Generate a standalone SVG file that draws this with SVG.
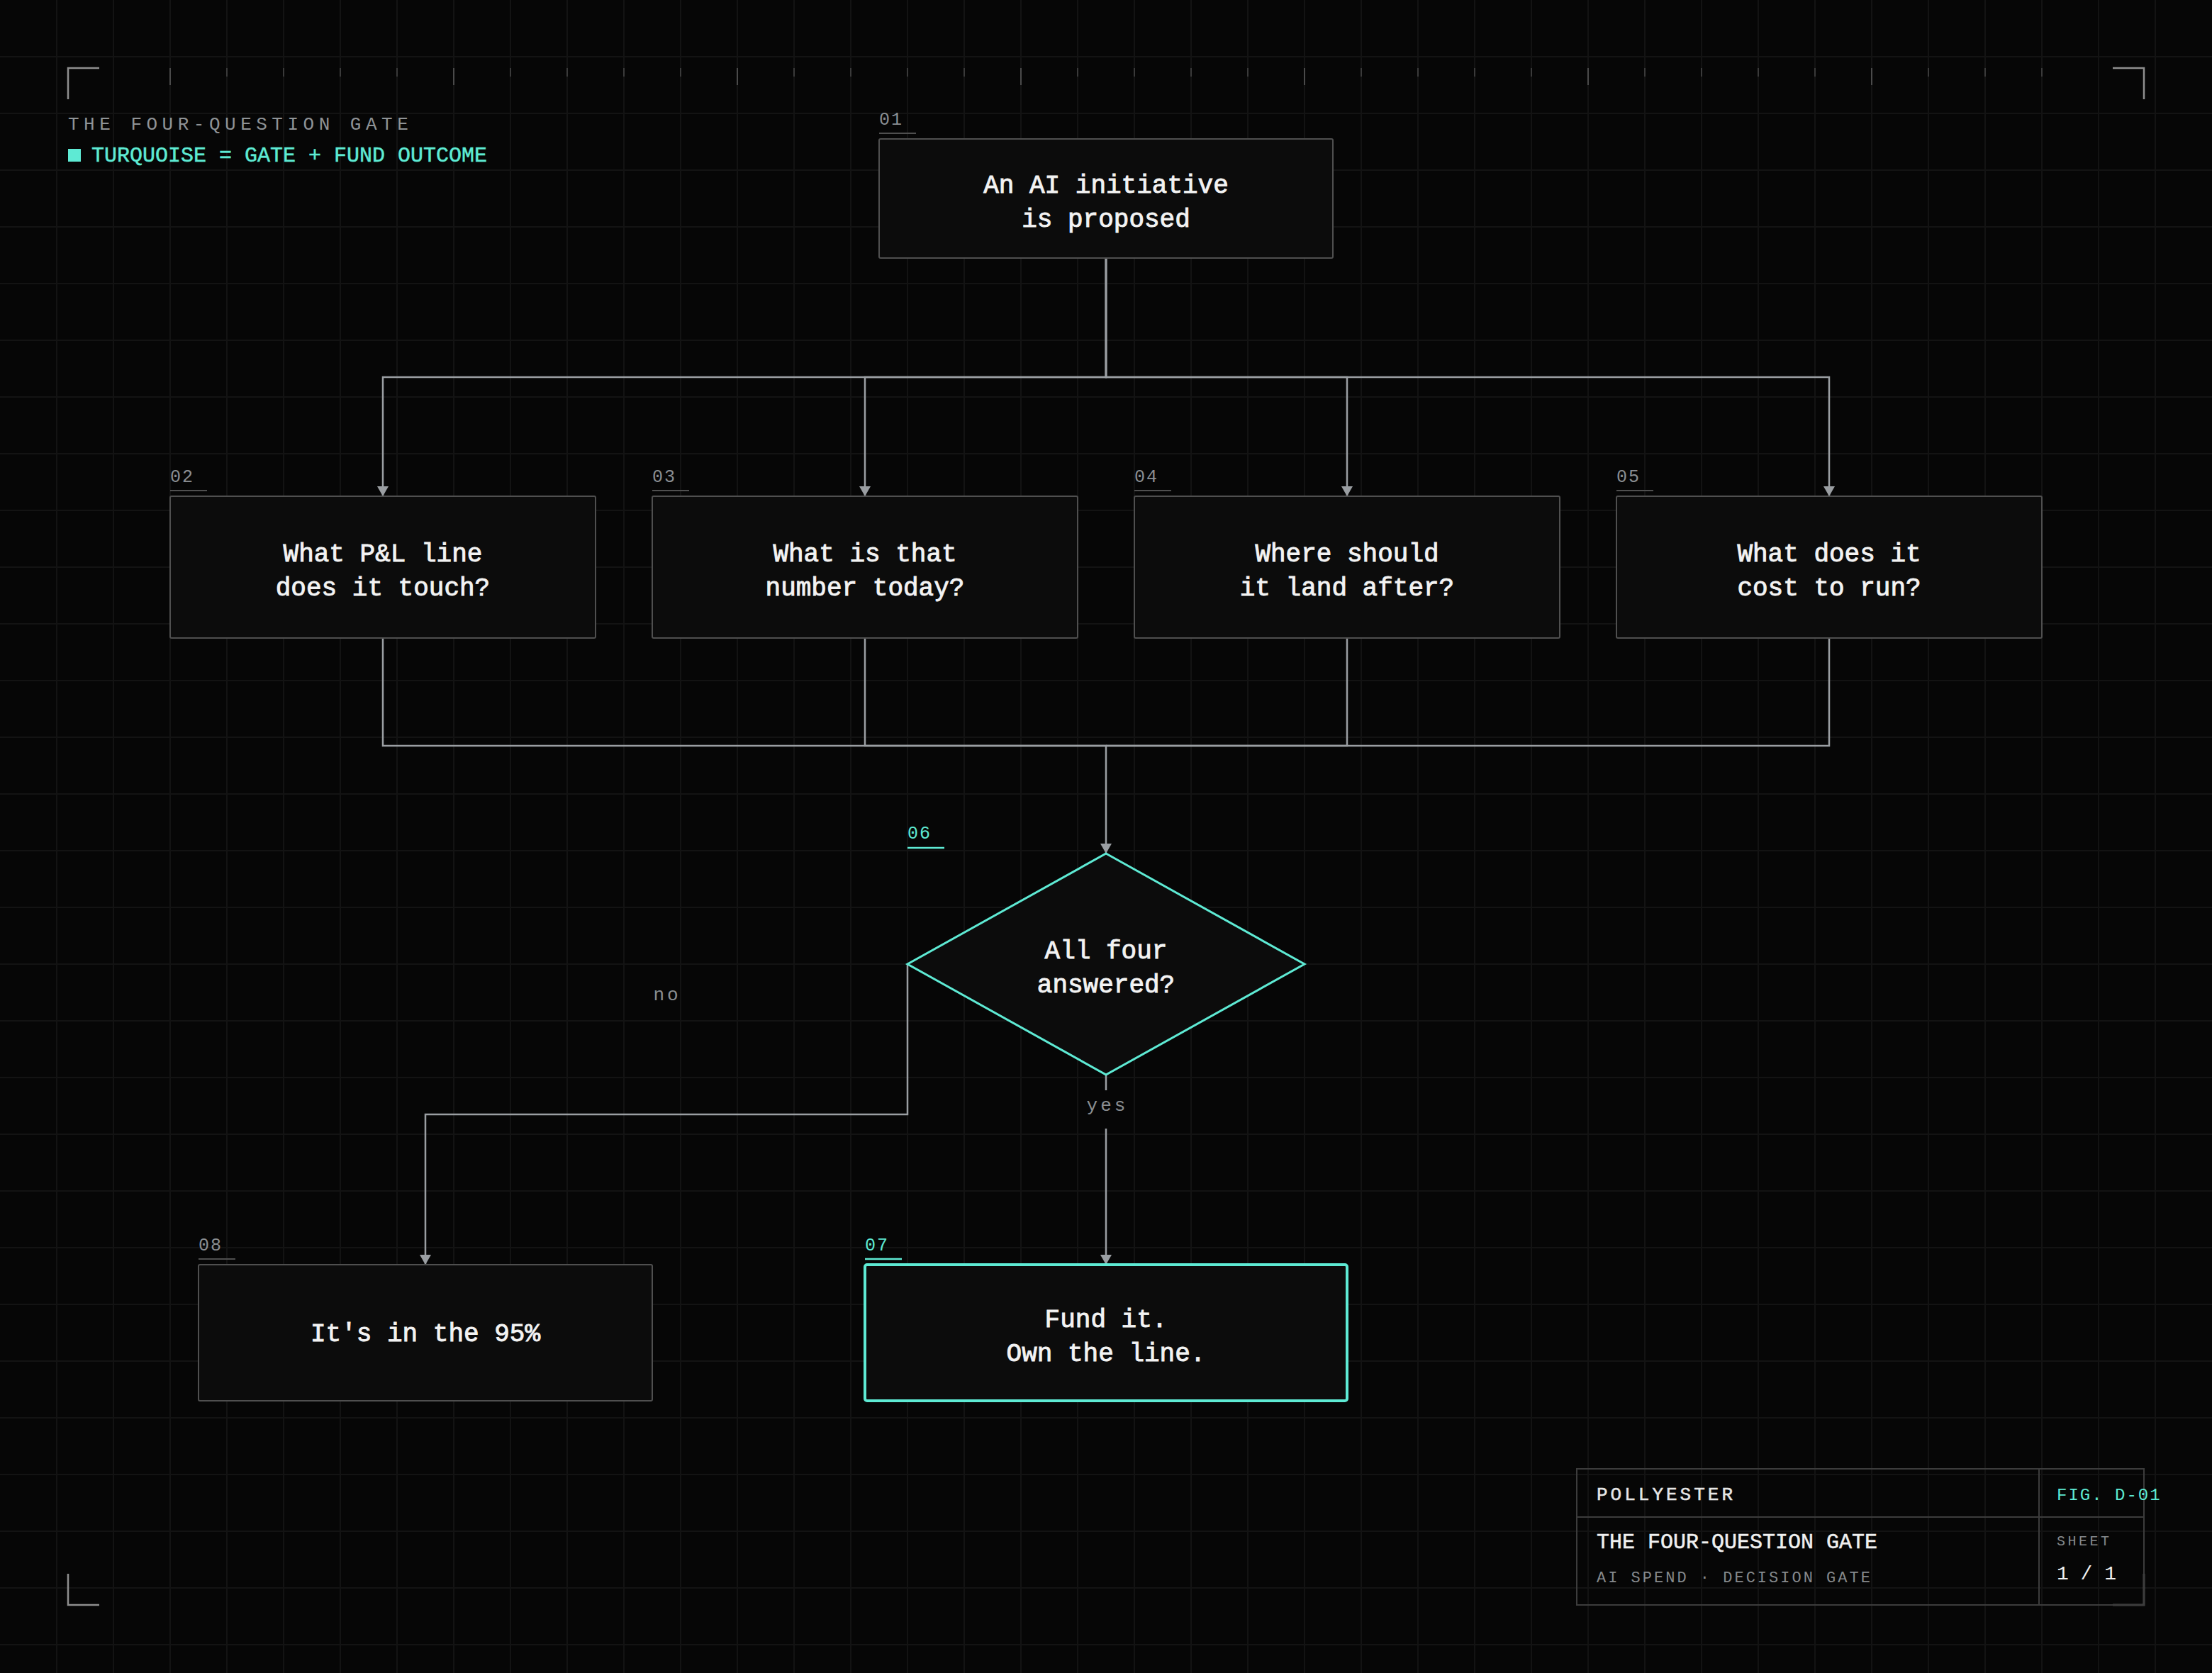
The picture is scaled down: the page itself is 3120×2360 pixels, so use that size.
<svg xmlns="http://www.w3.org/2000/svg" width="3120" height="2360" viewBox="0 0 3120 2360">
<defs>
<style>
.mono{font-family:"Liberation Mono","DejaVu Sans Mono",monospace;}
.grid{stroke:#131313;stroke-width:2;fill:none;}
.tick{stroke:#3a3a3a;stroke-width:2;}
.tickL{stroke:#4a4a4a;stroke-width:2;}
.bracket{stroke:#8e8e8e;stroke-width:2.5;fill:none;}
.box{fill:#0c0c0c;stroke:#4f4f4f;stroke-width:2;}
.boxT{fill:#0c0c0c;stroke:#5eead4;stroke-width:4;}
.dia{fill:#0c0c0c;stroke:#5eead4;stroke-width:3;}
.ntext{font-family:"Liberation Mono","DejaVu Sans Mono",monospace;font-size:36px;fill:#f3f3f3;stroke:#f3f3f3;stroke-width:0.9px;text-anchor:middle;}
.tag{font-family:"Liberation Mono","DejaVu Sans Mono",monospace;font-size:25px;letter-spacing:2px;fill:#8a8e92;}
.tagT{fill:#5eead4;}
.uline{stroke:#4f4f4f;stroke-width:2;}
.ulineT{stroke:#5eead4;stroke-width:2.5;}
.conn{fill:none;stroke:#9a9ea2;stroke-width:2.5;}
.elabel{font-family:"Liberation Mono","DejaVu Sans Mono",monospace;font-size:26px;letter-spacing:4px;fill:#8a8e92;text-anchor:middle;}
.tb{fill:none;stroke:#3c3c3c;stroke-width:2;}
</style>
<marker id="arr" viewBox="0 0 14 16" refX="14" refY="8" markerWidth="14" markerHeight="16" markerUnits="userSpaceOnUse" orient="auto">
<path d="M0 0 L14 8 L0 16 Z" fill="#9a9ea2"/>
</marker>
</defs>
<rect x="0" y="0" width="3120" height="2360" fill="#060606"/>
<g id="grid">
<path class="grid" d="M80 0V2360M160 0V2360M240 0V2360M320 0V2360M400 0V2360M480 0V2360M560 0V2360M640 0V2360M720 0V2360M800 0V2360M880 0V2360M960 0V2360M1040 0V2360M1120 0V2360M1200 0V2360M1280 0V2360M1360 0V2360M1440 0V2360M1520 0V2360M1600 0V2360M1680 0V2360M1760 0V2360M1840 0V2360M1920 0V2360M2000 0V2360M2080 0V2360M2160 0V2360M2240 0V2360M2320 0V2360M2400 0V2360M2480 0V2360M2560 0V2360M2640 0V2360M2720 0V2360M2800 0V2360M2880 0V2360M2960 0V2360M3040 0V2360"/>
<path class="grid" d="M0 80H3120M0 160H3120M0 240H3120M0 320H3120M0 400H3120M0 480H3120M0 560H3120M0 640H3120M0 720H3120M0 800H3120M0 880H3120M0 960H3120M0 1040H3120M0 1120H3120M0 1200H3120M0 1280H3120M0 1360H3120M0 1440H3120M0 1520H3120M0 1600H3120M0 1680H3120M0 1760H3120M0 1840H3120M0 1920H3120M0 2000H3120M0 2080H3120M0 2160H3120M0 2240H3120M0 2320H3120"/>
</g>
<g id="frame">
<path class="bracket" d="M96 140V96H140"/>
<path class="bracket" d="M2980 96H3024V140"/>
<path class="bracket" d="M96 2220V2264H140"/>
<path class="bracket" d="M3024 2220V2264H2980"/>
<path class="tick" d="M320 96V108M400 96V108M480 96V108M560 96V108M720 96V108M800 96V108M880 96V108M960 96V108M1120 96V108M1200 96V108M1280 96V108M1360 96V108M1520 96V108M1600 96V108M1680 96V108M1760 96V108M1920 96V108M2000 96V108M2080 96V108M2160 96V108M2320 96V108M2400 96V108M2480 96V108M2560 96V108M2720 96V108M2800 96V108M2880 96V108"/>
<path class="tickL" d="M240 96V120M640 96V120M1040 96V120M1440 96V120M1840 96V120M2240 96V120M2640 96V120"/>
</g>
<g id="legend">
<text class="mono" x="96" y="183" font-size="26" letter-spacing="6.5" fill="#8f9396">THE FOUR-QUESTION GATE</text>
<rect x="96" y="210" width="18" height="18" fill="#5eead4"/>
<text class="mono" x="129" y="228" font-size="30" fill="#5eead4" stroke="#5eead4" stroke-width="0.5">TURQUOISE = GATE + FUND OUTCOME</text>
</g>
<g id="connectors">
<path class="conn" d="M1560 364V532H540V700" marker-end="url(#arr)"/>
<path class="conn" d="M1560 364V532H1220V700" marker-end="url(#arr)"/>
<path class="conn" d="M1560 364V532H1900V700" marker-end="url(#arr)"/>
<path class="conn" d="M1560 364V532H2580V700" marker-end="url(#arr)"/>
<path class="conn" d="M540 900V1052H1560V1204" marker-end="url(#arr)"/>
<path class="conn" d="M1220 900V1052H1560"/>
<path class="conn" d="M1900 900V1052H1560"/>
<path class="conn" d="M2580 900V1052H1560"/>
<path class="conn" d="M1280 1360V1572H600V1784" marker-end="url(#arr)"/>
<path class="conn" d="M1560 1516V1538"/>
<path class="conn" d="M1560 1592V1784" marker-end="url(#arr)"/>
<text class="elabel" x="941" y="1411">no</text>
<text class="elabel" x="1562" y="1567">yes</text>
</g>
<g id="n01">
<rect class="box" x="1240" y="196" width="640" height="168" rx="2"/>
<text class="tag" x="1240" y="176">01</text>
<line class="uline" x1="1240" y1="188" x2="1292" y2="188"/>
<text class="ntext" x="1560" y="272">An AI initiative</text>
<text class="ntext" x="1560" y="320">is proposed</text>
</g>
<g id="n02">
<rect class="box" x="240" y="700" width="600" height="200" rx="2"/>
<text class="tag" x="240" y="680">02</text>
<line class="uline" x1="240" y1="692" x2="292" y2="692"/>
<text class="ntext" x="540" y="792">What P&amp;L line</text>
<text class="ntext" x="540" y="840">does it touch?</text>
</g>
<g id="n03">
<rect class="box" x="920" y="700" width="600" height="200" rx="2"/>
<text class="tag" x="920" y="680">03</text>
<line class="uline" x1="920" y1="692" x2="972" y2="692"/>
<text class="ntext" x="1220" y="792">What is that</text>
<text class="ntext" x="1220" y="840">number today?</text>
</g>
<g id="n04">
<rect class="box" x="1600" y="700" width="600" height="200" rx="2"/>
<text class="tag" x="1600" y="680">04</text>
<line class="uline" x1="1600" y1="692" x2="1652" y2="692"/>
<text class="ntext" x="1900" y="792">Where should</text>
<text class="ntext" x="1900" y="840">it land after?</text>
</g>
<g id="n05">
<rect class="box" x="2280" y="700" width="600" height="200" rx="2"/>
<text class="tag" x="2280" y="680">05</text>
<line class="uline" x1="2280" y1="692" x2="2332" y2="692"/>
<text class="ntext" x="2580" y="792">What does it</text>
<text class="ntext" x="2580" y="840">cost to run?</text>
</g>
<g id="n06">
<polygon class="dia" points="1560,1204 1840,1360 1560,1516 1280,1360"/>
<text class="tag tagT" x="1280" y="1183">06</text>
<line class="ulineT" x1="1280" y1="1196" x2="1332" y2="1196"/>
<text class="ntext" x="1560" y="1352">All four</text>
<text class="ntext" x="1560" y="1400">answered?</text>
</g>
<g id="n07">
<rect class="boxT" x="1220" y="1784" width="680" height="192" rx="3"/>
<text class="tag tagT" x="1220" y="1764">07</text>
<line class="ulineT" x1="1220" y1="1776" x2="1272" y2="1776"/>
<text class="ntext" x="1560" y="1872">Fund it.</text>
<text class="ntext" x="1560" y="1920">Own the line.</text>
</g>
<g id="n08">
<rect class="box" x="280" y="1784" width="640" height="192" rx="2"/>
<text class="tag" x="280" y="1764">08</text>
<line class="uline" x1="280" y1="1776" x2="332" y2="1776"/>
<text class="ntext" x="600" y="1892">It's in the 95%</text>
</g>
<g id="titleblock">
<rect class="tb" x="2224" y="2072" width="800" height="192"/>
<path class="tb" d="M2224 2140H3024M2876 2072V2264"/>
<text class="mono" x="2252" y="2116" font-size="26" letter-spacing="4" fill="#e6e6e6" stroke="#e6e6e6" stroke-width="0.5">POLLYESTER</text>
<text class="mono" x="2901" y="2116" font-size="24" letter-spacing="2" fill="#5eead4">FIG. D-01</text>
<text class="mono" x="2252" y="2184" font-size="30" fill="#f0f0f0" stroke="#f0f0f0" stroke-width="0.5">THE FOUR-QUESTION GATE</text>
<text class="mono" x="2252" y="2232" font-size="22" letter-spacing="3" fill="#85898c">AI SPEND · DECISION GATE</text>
<text class="mono" x="2901" y="2180" font-size="20" letter-spacing="3.5" fill="#85898c">SHEET</text>
<text class="mono" x="2901" y="2228" font-size="28" fill="#f0f0f0">1 / 1</text>
</g>
</svg>
